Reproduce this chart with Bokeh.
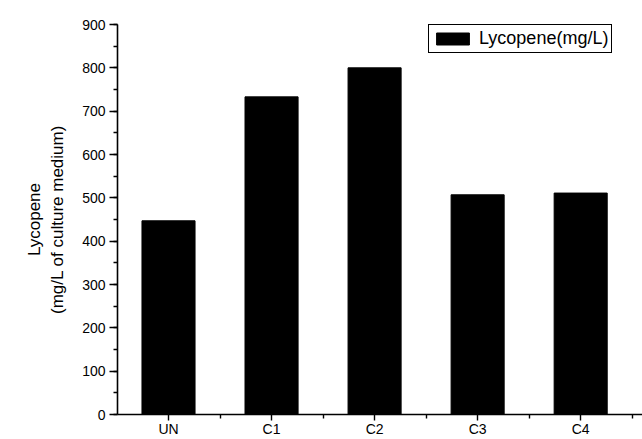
from bokeh.plotting import figure
from bokeh.models import Range1d, FixedTicker, SingleIntervalTicker, Legend, LegendItem
from bokeh.embed import file_html
from bokeh.resources import INLINE

categories = ["UN", "C1", "C2", "C3", "C4"]
lycopene = [447, 733, 800, 507, 511]
series_name = "Lycopene(mg/L)"

FONT = "Liberation Sans"

xs = list(range(len(categories)))

p = figure(width=642, height=439, output_backend="svg", toolbar_location=None,
           x_range=Range1d(-0.495, len(categories) - 0.4), y_range=Range1d(0, 900),
           min_border_left=117, min_border_top=24, min_border_right=0, min_border_bottom=24)
p.outline_line_color = None
p.xgrid.visible = False
p.ygrid.visible = False

r = p.vbar(x=xs, top=lycopene, width=0.515, fill_color="black", line_color="black")

for ax in (p.xaxis[0], p.yaxis[0]):
    ax.axis_line_color = "black"
    ax.axis_line_width = 1.6
    ax.major_tick_line_color = "black"
    ax.major_tick_line_width = 1.4
    ax.minor_tick_line_color = "black"
    ax.minor_tick_line_width = 1.4
    ax.major_tick_in = 0
    ax.minor_tick_in = 0
    ax.major_label_text_font = FONT
    ax.major_label_text_font_size = "14px"
    ax.major_label_text_color = "black"

xa = p.xaxis[0]
xa.ticker = FixedTicker(ticks=xs, minor_ticks=[i + 0.5 for i in xs])
xa.major_label_overrides = {i: c for i, c in zip(xs, categories)}
xa.major_tick_out = 6
xa.minor_tick_out = 4
xa.major_label_standoff = 0

ya = p.yaxis[0]
ya.ticker = SingleIntervalTicker(interval=100, num_minor_ticks=2)
ya.major_tick_out = 8
ya.minor_tick_out = 4
ya.major_label_standoff = 4
ya.axis_label = "Lycopene\n(mg/L of culture medium)"
ya.axis_label_text_font = FONT
ya.axis_label_text_font_size = "17px"
ya.axis_label_text_font_style = "normal"
ya.axis_label_text_color = "black"
ya.axis_label_standoff = 12

legend = Legend(items=[LegendItem(label=series_name, renderers=[r])],
                location=(311, 361))
legend.border_line_color = "black"
legend.border_line_alpha = 1.0
legend.border_line_width = 1.2
legend.background_fill_alpha = 1.0
legend.padding = 3
legend.spacing = 0
legend.margin = 0
legend.glyph_width = 41
legend.glyph_height = 15
legend.label_text_font = FONT
legend.label_text_font_size = "18px"
legend.label_text_color = "black"
legend.label_standoff = 6
legend.label_height = 15
p.add_layout(legend)

open("out.html", "w").write(file_html(p, INLINE))
